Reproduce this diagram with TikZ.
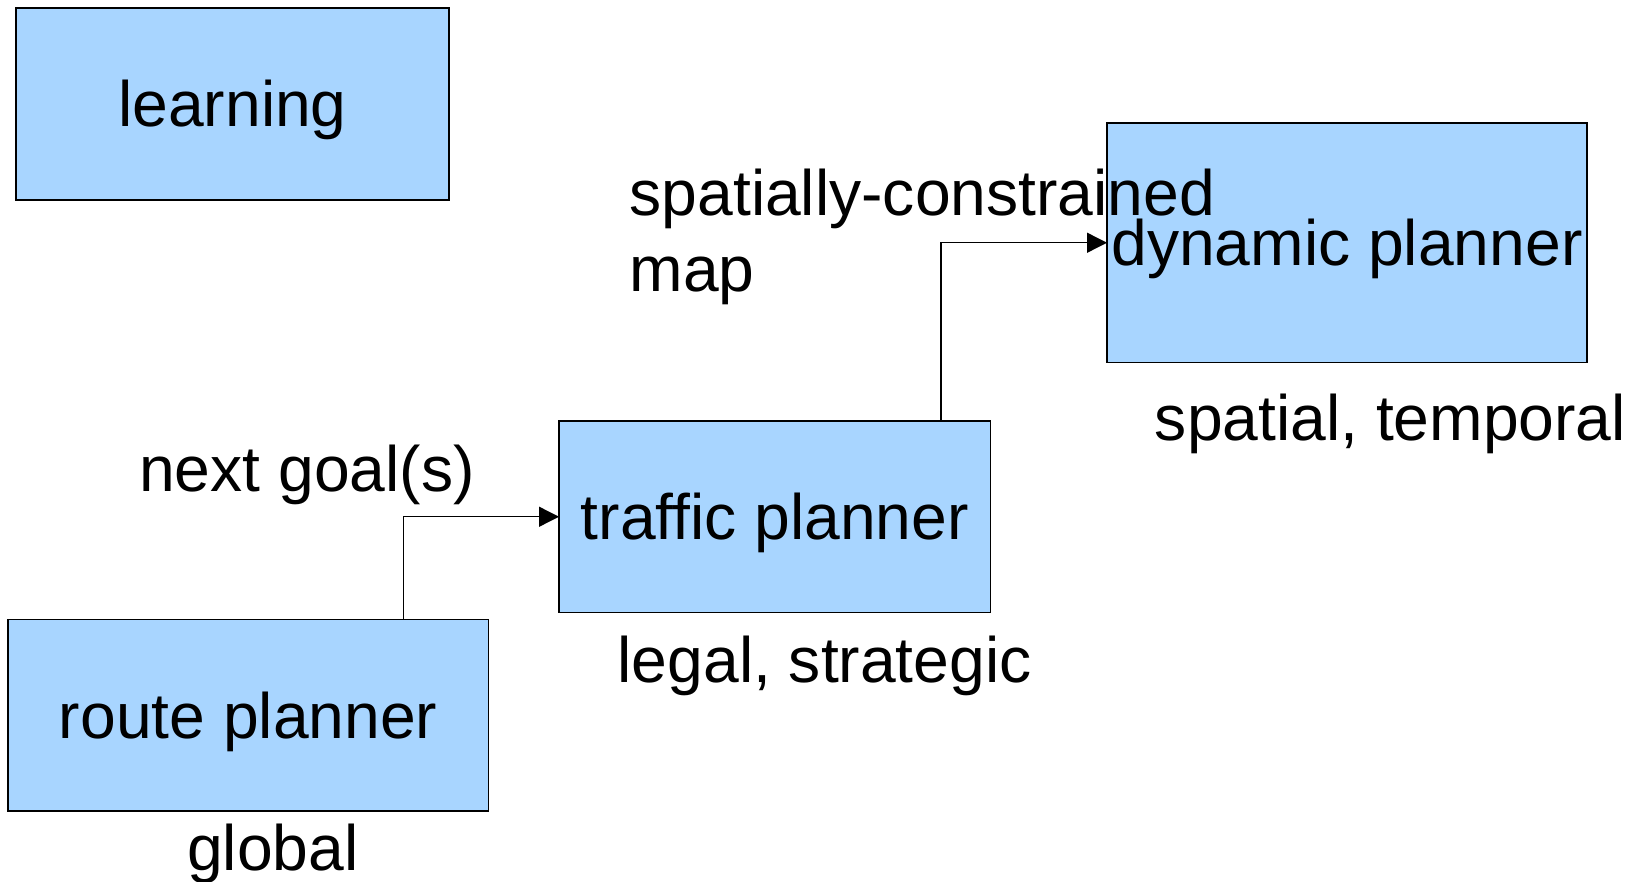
\documentclass[tikz,border=0pt]{standalone}
\usepackage{fontspec}
\setmainfont[Ligatures={TeX,NoCommon}]{Liberation Sans}
\usepackage{tikz}
\usetikzlibrary{arrows.meta,positioning}
\definecolor{boxblue}{RGB}{168,213,255}

\begin{document}
\begin{tikzpicture}[x=1pt,y=-1pt,
		font=\fontsize{64.2}{75.7}\selectfont,
		block/.style={draw=black, fill=boxblue, line width=1.3pt, inner sep=0pt, outer sep=0pt,
			text height=46pt, text depth=0pt},
		flow/.style={line width=1.3pt, -{Triangle[length=20pt,width=20pt]}},
		tag/.style={anchor=base west, inner sep=0pt}]
	\useasboundingbox (0,0) rectangle (1635,882);

	% the four planner boxes
	\node[block, minimum width=433pt, minimum height=192pt] (learning) at (232.5,104) {learning};
	\node[block, minimum width=480pt, minimum height=239.5pt] (dynamic) at (1347,242.75) {dynamic planner};
	\node[block, minimum width=431.7pt, minimum height=191.5pt] (traffic) at (774.85,516.75) {traffic planner};
	\node[block, minimum width=480.3pt, minimum height=191.7pt] (route) at (248.15,715.15) {route planner};

	% data passed upwards
	\draw[flow] ([xshift=-85pt]route.north east) |- (traffic.west);
	\draw[flow] ([xshift=-49.7pt]traffic.north east) |- (dynamic.west);

	\node[tag] (goals) at (139,491) {next goal(s)};
	\node[tag] (map1) at (629.5,216) {spatially-constrained};
	\node[tag] (map2) at (629.5,291.7) {map};

	% level of each planner
	\node[tag] (global) at (187,870) {global};
	\node[tag] (legal) at (617.5,682) {legal, strategic};
	\node[tag] (spatial) at (1154.7,440) {spatial, temporal};
\end{tikzpicture}
\end{document}
